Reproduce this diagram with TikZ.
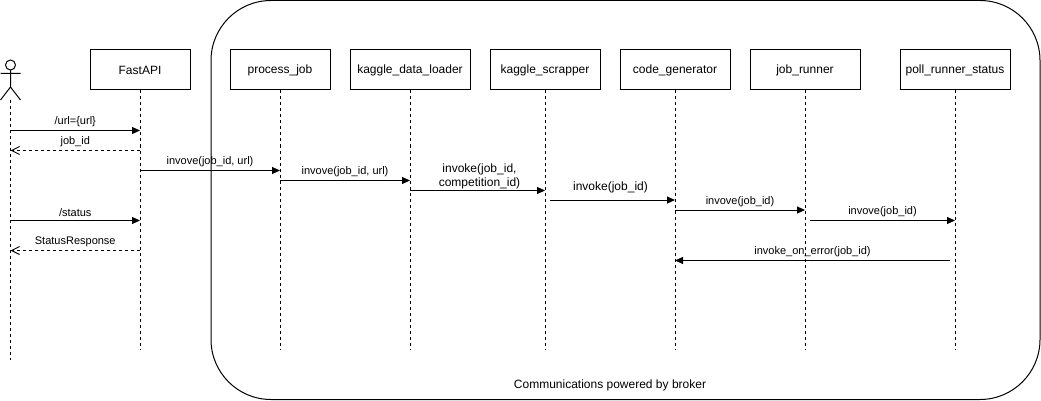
\documentclass[tikz,border=0pt]{standalone}
\usepackage{fontspec}
\setmainfont{Liberation Sans}
\usetikzlibrary{arrows.meta}
\tikzset{
  x=1pt,y=1pt,
  every node/.style={font=\fontsize{12}{14}\selectfont,text=black},
  lifebox/.style={draw=black,line width=1pt,fill=white,minimum width=100pt,minimum height=40pt,inner sep=0pt},
  widebox/.style={lifebox,minimum width=110pt},
  lifeline/.style={draw=black,line width=1pt,dash pattern=on 3pt off 3pt},
  msg/.style={draw=black,line width=1pt,-{Triangle[length=8pt,width=7pt]}},
  ret/.style={draw=black,line width=1pt,dash pattern=on 3pt off 3pt,-{Straight Barb[length=8pt,width=8pt]}},
  lab/.style={font=\fontsize{11}{13}\selectfont,inner sep=0pt,align=center},
  stick/.style={draw=black,line width=1pt}
}
\begin{document}
\begin{tikzpicture}
\useasboundingbox (0,0) rectangle (1041,-401);
\draw[black,line width=1pt,rounded corners=60pt] (211,-0.5) rectangle (1040,-399.5);
% lifeline heads
\node[lifebox] (fastapi) at (140,-70) {FastAPI};
\node[lifebox] (process) at (280,-70) {process\_job};
\node[lifebox,minimum width=120pt] (loader) at (410,-70) {kaggle\_data\_loader};
\node[widebox] (scrapper) at (545,-70) {kaggle\_scrapper};
\node[widebox] (generator) at (675,-70) {code\_generator};
\node[widebox] (runner) at (805,-70) {job\_runner};
\node[widebox] (poll) at (955,-70) {poll\_runner\_status};
% actor
\coordinate (actor) at (10.5,-100);
\draw[stick] (10.5,-65) circle (5pt);
\draw[stick] (10.5,-70) -- (10.5,-87) (0.5,-73.5) -- (20.5,-73.5) (10.5,-87) -- (0.5,-100) (10.5,-87) -- (20.5,-100);
% life lines
\coordinate (bottom) at (0,-350);
\coordinate (bottomA) at (0,-360);
\draw[lifeline] (actor) -- (actor |- bottomA);
\foreach \n in {fastapi,process,loader,scrapper,generator,runner,poll}{
  \draw[lifeline] (\n.south) -- (\n.south |- bottom);
}
\foreach \v in {130,150,170,180,190,220,250,260}{\coordinate (y\v) at (0,-\v-0.5);}
\coordinate (y200) at (0,-200);
\coordinate (y210) at (0,-210);
% messages
\draw[msg] (actor |- y130) -- node[lab,above=3pt] {/url=\{url\}} (fastapi |- y130);
\draw[ret] (fastapi |- y150) -- node[lab,above=3pt] {job\_id} (actor |- y150);
\draw[msg] (fastapi |- y170) -- node[lab,above=3pt] {invove(job\_id, url)} (process |- y170);
\draw[msg] (process |- y180) -- node[lab,above=3pt] {invove(job\_id, url)} (loader |- y180);
\draw[msg] (loader |- y190) -- node[lab,above=1.5pt,xshift=2pt,font=\fontsize{12}{14}\selectfont] {invoke(job\_id,\\competition\_id)} (scrapper |- y190);
\draw[msg] ([xshift=5pt]scrapper |- y200) -- node[lab,above=7pt,xshift=-2pt,font=\fontsize{12}{14}\selectfont] {invoke(job\_id)} (generator |- y200);
\draw[msg] (generator |- y210) -- node[lab,above=3pt] {invove(job\_id)} (runner |- y210);
\draw[msg] ([xshift=5pt]runner |- y220) -- node[lab,above=3pt] {invove(job\_id)} (poll |- y220);
\draw[msg] ([xshift=-5pt]poll |- y260) -- node[lab,above=3pt] {invoke\_on\_error(job\_id)} (generator |- y260);
\draw[msg] (actor |- y220) -- node[lab,above=3pt] {/status} (fastapi |- y220);
\draw[ret] (fastapi |- y250) -- node[lab,above=3pt] {StatusResponse} (actor |- y250);
\node[lab,font=\fontsize{12}{14}\selectfont] (broker) at (610,-385.5) {Communications powered by broker};
\end{tikzpicture}
\end{document}
